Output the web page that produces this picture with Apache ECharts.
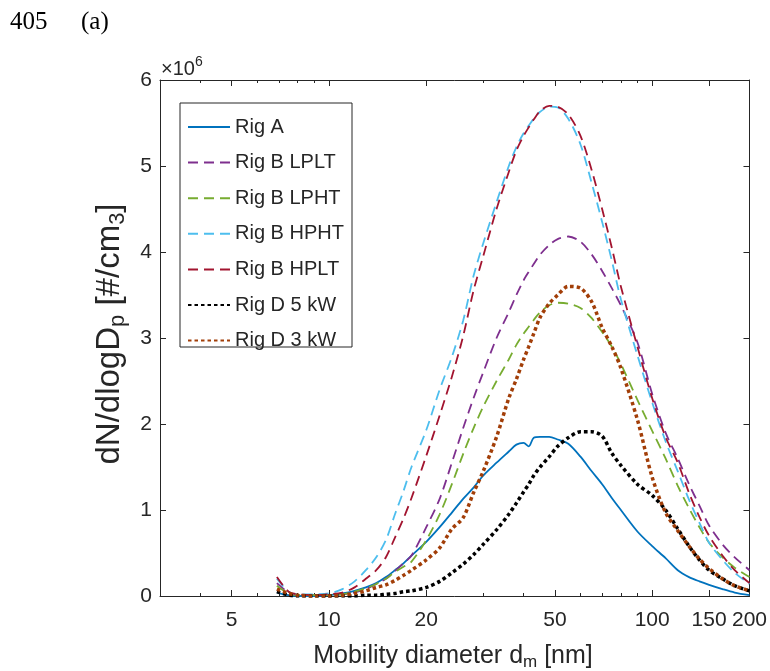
<!DOCTYPE html>
<html>
<head>
<meta charset="utf-8">
<script src="https://cdn.jsdelivr.net/npm/echarts@6/dist/echarts.min.js"></script>
<style>
html,body{margin:0;padding:0;background:#fff;}
#chart{width:770px;height:671px;}
</style>
</head>
<body>
<div id="chart"></div>
<script>
// Mobility diameter (nm)
const diameters = [6.9, 7.5, 8, 9, 10, 11, 12, 13, 14, 15, 16, 17, 18, 20, 22, 24, 26, 28, 30, 33, 36, 38, 40, 41.5, 43, 45, 48, 51, 55, 60, 65, 70, 75, 80, 90, 100, 110, 120, 130, 140, 150, 165, 180, 200];
// dN/dlogDp in units of 1e6 #/cm3
const rigA     = [0.04, 0.01, 0.00, 0.00, 0.01, 0.03, 0.06, 0.10, 0.15, 0.22, 0.30, 0.38, 0.47, 0.63, 0.80, 0.97, 1.13, 1.26, 1.40, 1.55, 1.68, 1.76, 1.78, 1.74, 1.84, 1.85, 1.85, 1.82, 1.77, 1.62, 1.45, 1.30, 1.14, 1.00, 0.75, 0.58, 0.44, 0.30, 0.22, 0.17, 0.13, 0.08, 0.04, 0.01];
const rigBLPLT = [0.15, 0.04, 0.01, 0.01, 0.01, 0.02, 0.04, 0.08, 0.14, 0.20, 0.29, 0.38, 0.47, 0.80, 1.13, 1.55, 1.95, 2.30, 2.60, 3.00, 3.30, 3.50, 3.67, 3.77, 3.86, 3.97, 4.08, 4.15, 4.18, 4.12, 3.97, 3.78, 3.58, 3.38, 2.95, 2.35, 1.90, 1.60, 1.30, 1.05, 0.82, 0.60, 0.45, 0.30];
const rigBLPHT = [0.12, 0.03, 0.01, 0.01, 0.01, 0.02, 0.05, 0.09, 0.14, 0.20, 0.28, 0.34, 0.40, 0.65, 0.95, 1.30, 1.65, 1.95, 2.20, 2.50, 2.75, 2.92, 3.05, 3.13, 3.21, 3.30, 3.38, 3.41, 3.40, 3.35, 3.23, 3.07, 2.90, 2.70, 2.28, 1.92, 1.60, 1.28, 1.02, 0.80, 0.62, 0.45, 0.33, 0.22];
const rigBHPHT = [0.20, 0.05, 0.02, 0.02, 0.03, 0.08, 0.17, 0.30, 0.45, 0.65, 0.95, 1.22, 1.50, 1.93, 2.40, 2.78, 3.20, 3.72, 4.10, 4.58, 5.00, 5.22, 5.38, 5.47, 5.55, 5.63, 5.69, 5.68, 5.55, 5.25, 4.80, 4.35, 3.90, 3.45, 2.80, 2.25, 1.80, 1.45, 1.12, 0.85, 0.62, 0.42, 0.27, 0.14];
const rigBHPLT = [0.22, 0.05, 0.02, 0.01, 0.02, 0.04, 0.10, 0.20, 0.30, 0.45, 0.68, 0.90, 1.14, 1.63, 2.10, 2.55, 3.02, 3.55, 3.95, 4.50, 4.93, 5.18, 5.35, 5.45, 5.54, 5.64, 5.70, 5.69, 5.60, 5.35, 4.95, 4.50, 4.05, 3.60, 2.90, 2.30, 1.85, 1.55, 1.20, 0.92, 0.70, 0.47, 0.30, 0.15];
const rigD5kW  = [0.05, 0.01, 0.00, 0.00, 0.00, 0.00, 0.00, 0.01, 0.01, 0.02, 0.03, 0.05, 0.06, 0.10, 0.17, 0.27, 0.37, 0.48, 0.60, 0.77, 0.95, 1.08, 1.21, 1.30, 1.40, 1.50, 1.62, 1.74, 1.84, 1.91, 1.91, 1.86, 1.66, 1.52, 1.30, 1.17, 1.00, 0.78, 0.58, 0.42, 0.30, 0.20, 0.12, 0.06];
const rigD3kW  = [0.08, 0.03, 0.01, 0.00, 0.00, 0.01, 0.03, 0.06, 0.10, 0.13, 0.18, 0.24, 0.30, 0.42, 0.56, 0.78, 0.91, 1.20, 1.45, 1.85, 2.30, 2.52, 2.75, 2.90, 3.05, 3.24, 3.40, 3.50, 3.60, 3.58, 3.42, 3.12, 2.90, 2.65, 2.05, 1.38, 0.97, 0.76, 0.58, 0.43, 0.32, 0.20, 0.12, 0.06];

const seriesNames = ['Rig A', 'Rig B LPLT', 'Rig B LPHT', 'Rig B HPHT', 'Rig B HPLT', 'Rig D 5 kW', 'Rig D 3 kW'];
const seriesValues = [rigA, rigBLPLT, rigBLPHT, rigBHPHT, rigBHPLT, rigD5kW, rigD3kW];
const xMajorTicks = [5, 10, 20, 50, 100, 150, 200];
const xMinorTicks = [4, 6, 7, 8, 9, 30, 40, 60, 70, 80, 90];
const yTicks = [0, 1, 2, 3, 4, 5, 6];

const colors = ['#0072BD', '#7E2F8E', '#77AC30', '#4DBEEE', '#A2142F', '#000000', '#A23E08'];
const styles = [
  {type: 'solid', width: 1.8},
  {type: [10, 6], width: 1.8},
  {type: [10, 6], width: 1.8},
  {type: [10, 6], width: 1.8},
  {type: [10, 6], width: 1.8},
  {type: [3.5, 3], width: 3.5},
  {type: [3.5, 3], width: 3.5}
];
const FONT = 'Liberation Sans, Arial, Helvetica, sans-serif';
const AX = '#262626';

const series = seriesNames.map((name, k) => ({
  name: name,
  type: 'line',
  xAxisIndex: 0,
  yAxisIndex: 0,
  symbol: 'none',
  showSymbol: false,
  smooth: 0.3,
  color: colors[k],
  itemStyle: {color: colors[k]},
  lineStyle: {color: colors[k], width: styles[k].width, type: styles[k].type, cap: 'butt'},
  data: diameters.map((d, i) => [d, seriesValues[k][i]]),
  z: 2 + (k === 5 || k === 6 ? 1 : 0)
}));

function xAxisDef(position, ticks, len, showLine, showLabel) {
  return {
    type: 'log', logBase: 10, min: 3, max: 200, gridIndex: 0, position: position,
    axisLine: {show: showLine, lineStyle: {color: AX, width: 1}},
    axisTick: {show: true, inside: true, length: len, customValues: ticks, lineStyle: {color: AX, width: 1}},
    axisLabel: {show: showLabel, customValues: ticks, fontSize: 21, color: AX, fontFamily: FONT, margin: 14},
    splitLine: {show: false}, minorTick: {show: false}
  };
}

const chart = echarts.init(document.getElementById('chart'), null, {renderer: 'canvas'});
chart.setOption({
  animation: false,
  backgroundColor: '#fff',
  grid: {left: 160, top: 80, width: 590, height: 516, containLabel: false},
  xAxis: [
    xAxisDef('bottom', xMajorTicks, 6, true, true),
    xAxisDef('bottom', xMinorTicks, 3, false, false),
    xAxisDef('top', xMajorTicks, 6, true, false),
    xAxisDef('top', xMinorTicks, 3, false, false)
  ],
  yAxis: [
    {type: 'value', min: 0, max: 6, interval: 1, position: 'left',
     axisLine: {show: true, lineStyle: {color: AX, width: 1}},
     axisTick: {inside: true, length: 6, lineStyle: {color: AX}},
     axisLabel: {fontSize: 21, color: AX, fontFamily: FONT, margin: 8,
       customValues: yTicks},
     splitLine: {show: false}},
    {type: 'value', min: 0, max: 6, interval: 1, position: 'right',
     axisLine: {show: true, lineStyle: {color: AX, width: 1}},
     axisTick: {inside: true, length: 6, lineStyle: {color: AX}},
     axisLabel: {show: false}, splitLine: {show: false}}
  ],
  legend: {
    orient: 'vertical', left: 187, top: 117,
    itemWidth: 42, itemHeight: 18, itemGap: 15.6, padding: 0,
    itemStyle: {opacity: 0, borderWidth: 0},
    textStyle: {fontSize: 20, color: AX, fontFamily: FONT},
    data: seriesNames
  },
  graphic: [
    {type: 'rect', z: 3, shape: {x: 180, y: 103, width: 172, height: 244},
     style: {fill: '#fff', stroke: AX, lineWidth: 1}},
    {type: 'text', left: 10, top: 10, style: {text: '405', fontSize: 25, fontFamily: 'Liberation Serif, Times New Roman, serif', fill: '#000'}},
    {type: 'text', left: 81, top: 10, style: {text: '(a)', fontSize: 25, fontFamily: 'Liberation Serif, Times New Roman, serif', fill: '#000'}},
    {type: 'text', left: 161, top: 55, style: {
      text: '{a|×10}{s|6}', fill: AX, fontFamily: FONT,
      rich: {a: {fontSize: 20, lineHeight: 24, verticalAlign: 'bottom', fontFamily: FONT, fill: AX},
             s: {fontSize: 14, lineHeight: 14, verticalAlign: 'top', fontFamily: FONT, fill: AX}}}},
    {type: 'text', x: 453, y: 656, style: {
      text: '{a|Mobility diameter d}{s|m}{a| [nm]}', align: 'center', verticalAlign: 'middle', fill: AX,
      rich: {a: {fontSize: 25, lineHeight: 30, verticalAlign: 'middle', fontFamily: FONT, fill: AX},
             s: {fontSize: 17, lineHeight: 17, verticalAlign: 'bottom', fontFamily: FONT, fill: AX}}}},
    {type: 'text', x: 110, y: 334, rotation: Math.PI / 2, style: {
      text: '{a|dN/dlogD}{s|p}{a| [#/cm}{s|3}{a|]}', align: 'center', verticalAlign: 'middle', fill: AX,
      rich: {a: {fontSize: 33, lineHeight: 38, verticalAlign: 'middle', fontFamily: FONT, fill: AX},
             s: {fontSize: 22, lineHeight: 22, verticalAlign: 'bottom', fontFamily: FONT, fill: AX}}}}
  ],
  series: series
});
</script>
</body>
</html>
